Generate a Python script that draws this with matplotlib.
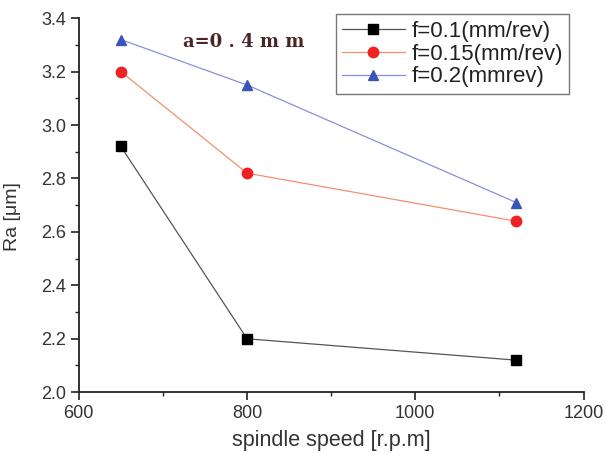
import matplotlib
matplotlib.use("Agg")
import matplotlib.pyplot as plt
from matplotlib.ticker import MultipleLocator, FormatStrFormatter

speed = [650, 800, 1120]
ra_f01 = [2.92, 2.20, 2.12]
ra_f015 = [3.20, 2.82, 2.64]
ra_f02 = [3.32, 3.15, 2.71]
labels = ["f=0.1(mm/rev)", "f=0.15(mm/rev)", "f=0.2(mmrev)"]

plt.rcParams['font.family'] = ['Liberation Sans', 'DejaVu Sans']
fig = plt.figure(figsize=(6.06, 4.55), dpi=100)
ax = fig.add_axes([0.130, 0.138, 0.833, 0.822])

ax.plot(speed, ra_f01, color="#555555", lw=0.9, marker="s", ms=6.5, mfc="black", mec="black", label=labels[0])
ax.plot(speed, ra_f015, color="#f4906c", lw=0.9, marker="o", ms=7.5, mfc="#ee2222", mec="#ee2222", label=labels[1])
ax.plot(speed, ra_f02, color="#8a8ee0", lw=0.9, marker="^", ms=7.5, mfc="#3a55b5", mec="#3a55b5", label=labels[2])

ax.set_xlim(600, 1200)
ax.set_ylim(2.0, 3.4)
ax.xaxis.set_major_locator(MultipleLocator(200))
ax.xaxis.set_minor_locator(MultipleLocator(100))
ax.yaxis.set_major_locator(MultipleLocator(0.2))
ax.yaxis.set_minor_locator(MultipleLocator(0.1))
ax.yaxis.set_major_formatter(FormatStrFormatter('%.1f'))
ax.spines['top'].set_visible(False)
ax.spines['right'].set_visible(False)
ax.spines['left'].set_linewidth(1.3)
ax.spines['bottom'].set_linewidth(1.3)
ax.spines['left'].set_color("#222222")
ax.spines['bottom'].set_color("#222222")
ax.tick_params(which='major', direction='out', length=6, width=1.2, labelsize=13,
               labelcolor="#333333", color="#222222", pad=3)
ax.tick_params(which='minor', direction='out', length=3, width=1.0, color="#222222")

ax.set_xlabel("spindle speed [r.p.m]", fontsize=15.5, color="#333333", labelpad=6)
ax.set_ylabel("Ra [μm]", fontsize=14, color="#333333")
ax.yaxis.set_label_coords(-0.115, 0.47)

ax.text(0.206, 0.936, "a=0 . 4 m m", transform=ax.transAxes, family=['DejaVu Serif'],
        fontsize=13, fontweight='bold', color="#4a2525", va='center')

leg = ax.legend(loc='upper right', bbox_to_anchor=(0.972, 1.011), borderaxespad=0,
                fontsize=16, frameon=True, fancybox=False, edgecolor="#555555",
                handlelength=2.8, borderpad=0.3, labelspacing=0.08, handletextpad=0.3)
leg.get_frame().set_linewidth(1.0)
for t in leg.get_texts():
    t.set_color("#222222")

fig.savefig("out.png", dpi=100)
